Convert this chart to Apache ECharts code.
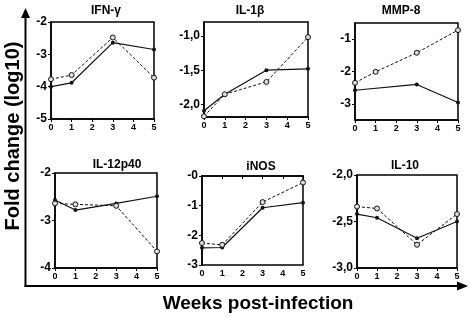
<!DOCTYPE html>
<html>
<head>
<meta charset="utf-8">
<script src="https://cdn.jsdelivr.net/npm/echarts@6/dist/echarts.min.js"></script>
<style>
html,body{margin:0;padding:0;background:#fff;}
#chart{width:471px;height:318px;}
</style>
</head>
<body>
<div id="chart"></div>
<script>
// weeks post-infection
const weeks = [0, 1, 3, 5]
const mmpSolidWeeks = [0, 3, 5]

const panelTitles = ['IFN-\u03b3', 'IL-1\u03b2', 'MMP-8', 'IL-12p40', 'iNOS', 'IL-10']

// solid line (filled markers)
const ifnSolid = [-4.00, -3.88, -2.64, -2.85]
const il1Solid = [-2.09, -1.85, -1.50, -1.48]
const mmpSolid = [-2.58, -2.40, -2.96]
const il12Solid = [-2.57, -2.78, -2.64, -2.49]
const inosSolid = [-2.42, -2.41, -1.07, -0.90]
const il10Solid = [-2.42, -2.46, -2.68, -2.50]

// dashed line (open markers)
const ifnDashed = [-3.77, -3.64, -2.48, -3.72]
const il1Dashed = [-2.17, -1.85, -1.67, -1.02]
const mmpDashed = [-2.35, -2.01, -1.42, -0.72]
const il12Dashed = [-2.64, -2.66, -2.69, -3.65]
const inosDashed = [-2.26, -2.32, -0.88, -0.22]
const il10Dashed = [-2.34, -2.36, -2.75, -2.42]

// y tick labels per panel
const ifnTicks = [-5, -4, -3, -2]
const il1Ticks = [-2.0, -1.5, -1.0]
const mmpTicks = [-3, -2, -1]
const il12Ticks = [-4, -3, -2]
const inosTicks = [-3, -2, -1, 0]
const il10Ticks = [-3.0, -2.5, -2.0]

const panels = [
    {title: panelTitles[0], solidX: weeks, solid: ifnSolid, dashed: ifnDashed, ticks: ifnTicks, min: -5, max: -2, dec: false,
        grid: {left: 51, top: 22, width: 103, height: 97}, titlePos: [106, 5]},
    {title: panelTitles[1], solidX: weeks, solid: il1Solid, dashed: il1Dashed, ticks: il1Ticks, min: -2.18, max: -0.8, dec: true,
        grid: {left: 204, top: 22, width: 104, height: 95}, titlePos: [250, 5]},
    {title: panelTitles[2], solidX: mmpSolidWeeks, solid: mmpSolid, dashed: mmpDashed, ticks: mmpTicks, min: -3.5, max: -0.5, dec: false,
        grid: {left: 355, top: 23, width: 103, height: 97}, titlePos: [401, 5]},
    {title: panelTitles[3], solidX: weeks, solid: il12Solid, dashed: il12Dashed, ticks: il12Ticks, min: -4, max: -2, dec: false,
        grid: {left: 55, top: 173, width: 102, height: 95}, titlePos: [117, 159]},
    {title: panelTitles[4], solidX: weeks, solid: inosSolid, dashed: inosDashed, ticks: inosTicks, min: -3, max: 0, dec: false,
        grid: {left: 202, top: 176, width: 101, height: 89}, titlePos: [261, 161]},
    {title: panelTitles[5], solidX: weeks, solid: il10Solid, dashed: il10Dashed, ticks: il10Ticks, min: -3, max: -2, dec: true,
        grid: {left: 357, top: 175, width: 100, height: 93}, titlePos: [405, 160]}
]

function fmtTick(v, dec){
    if (v === 0) return '-0'
    if (dec) return v.toFixed(1).replace('.', ',')
    return String(v)
}

const fontFamily = '"Liberation Sans", Arial, sans-serif'

let grids = [], xAxes = [], yAxes = [], series = [], titles = []
panels.forEach((p, i) => {
    grids.push(Object.assign({show: true, borderColor: '#000', borderWidth: 1.5, backgroundColor: '#fff'}, p.grid))
    titles.push({
        text: p.title,
        left: p.titlePos[0],
        top: p.titlePos[1],
        padding: 0,
        textAlign: 'center',
        textStyle: {fontFamily: fontFamily, fontSize: 12, fontWeight: 'bold', color: '#000'}
    })
    xAxes.push({
        type: 'value', gridIndex: i, min: 0, max: 5, interval: 1,
        axisLine: {show: true, lineStyle: {color: '#000', width: 1.5}},
        axisTick: {show: true, length: 3, lineStyle: {color: '#000'}},
        axisLabel: {color: '#000', fontSize: 9, fontWeight: 'bold', fontFamily: fontFamily, margin: 4},
        splitLine: {show: false}
    })
    yAxes.push({
        type: 'value', gridIndex: i, min: p.min, max: p.max,
        axisLine: {show: true, lineStyle: {color: '#000', width: 1.5}},
        axisTick: {show: true, length: 3, customValues: p.ticks, lineStyle: {color: '#000'}},
        axisLabel: {
            color: '#000', fontSize: 12, fontWeight: 'bold', fontFamily: fontFamily, margin: 4,
            customValues: p.ticks,
            formatter: (v) => fmtTick(v, p.dec)
        },
        splitLine: {show: false}
    })
    series.push({
        type: 'line', xAxisIndex: i, yAxisIndex: i,
        symbol: 'circle', symbolSize: 4,
        lineStyle: {color: '#111', width: 1.2},
        itemStyle: {color: '#111'},
        data: p.solidX.map((w, k) => [w, p.solid[k]]),
        z: 3
    })
    series.push({
        type: 'line', xAxisIndex: i, yAxisIndex: i,
        symbol: 'circle', symbolSize: 5,
        lineStyle: {color: '#111', width: 1, type: [3, 2]},
        itemStyle: {color: '#ddd', borderColor: '#111', borderWidth: 1},
        data: weeks.map((w, k) => [w, p.dashed[k]]),
        z: 4
    })
})

let option = {
    backgroundColor: '#fff',
    animation: false,
    title: titles,
    grid: grids,
    xAxis: xAxes,
    yAxis: yAxes,
    series: series,
    graphic: [
        // big axes with arrows
        {type: 'line', shape: {x1: 25.5, y1: 14, x2: 25.5, y2: 287}, style: {stroke: '#000', lineWidth: 2}},
        {type: 'polygon', shape: {points: [[25.5, 8], [21, 18], [30, 18]]}, style: {fill: '#000'}},
        {type: 'line', shape: {x1: 24.5, y1: 286, x2: 460, y2: 286}, style: {stroke: '#000', lineWidth: 2}},
        {type: 'polygon', shape: {points: [[468, 286], [457, 281.5], [457, 290.5]]}, style: {fill: '#000'}},
        {
            type: 'text', x: 13, y: 136, rotation: Math.PI / 2,
            style: {text: 'Fold change (log10)', fill: '#000', font: 'bold 20px ' + fontFamily,
                align: 'center', verticalAlign: 'middle'}
        },
        {
            type: 'text', x: 258, y: 304,
            style: {text: 'Weeks post-infection', fill: '#000', font: 'bold 19px ' + fontFamily,
                align: 'center', verticalAlign: 'middle'}
        }
    ]
}

let chart = echarts.init(document.getElementById('chart'))
chart.setOption(option)
window.addEventListener('resize', () => {
    chart.resize()
})
</script>
</body>
</html>
